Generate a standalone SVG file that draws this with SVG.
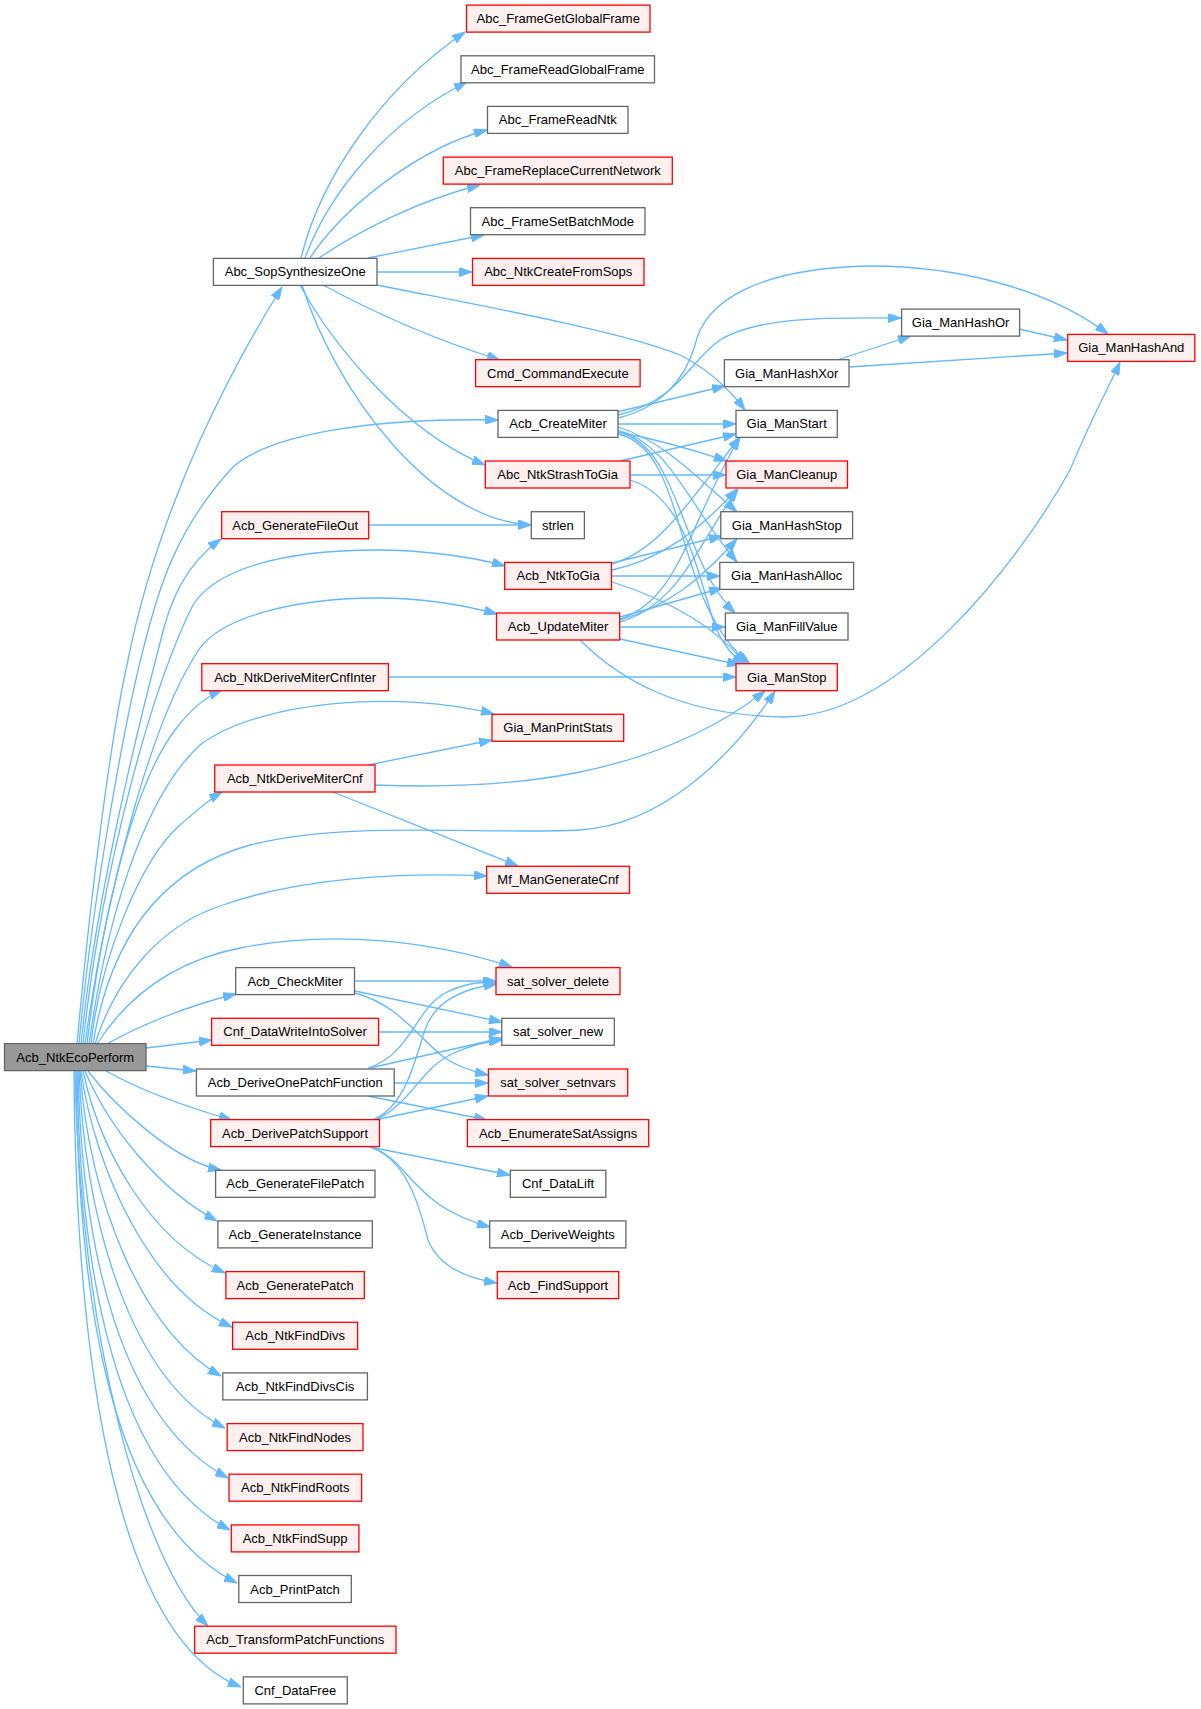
<svg xmlns="http://www.w3.org/2000/svg" width="1201" height="1709" viewBox="0 0 1201 1709">
<style>
.n rect{fill:#ffffff;stroke:#666666;stroke-width:1.3}
.r rect{fill:#fff0f0;stroke:#ff0000;stroke-width:1.3}
.root rect{fill:#999999;stroke:#666666;stroke-width:1.3}
text{font-family:'Liberation Sans',Arial,Helvetica,sans-serif;font-size:13px;fill:#000000;text-anchor:middle}
#edges path{fill:none;stroke:#63b8ff;stroke-width:1.3;marker-end:url(#ah)}
</style>
<defs>
<marker id="ah" markerUnits="userSpaceOnUse" viewBox="0 0 13 9" refX="13" refY="4.5" markerWidth="13" markerHeight="9" orient="auto">
<path d="M0,0 L13,4.5 L0,9 z" fill="#63b8ff" stroke="#63b8ff" stroke-width="1"/>
</marker>
</defs>
<rect width="1201" height="1709" fill="#ffffff"/>
<g id="edges">
<!-- root edges -->
<path d="M77,1044 C90,900 110,740 128,660 C140,600 160,530 200,440 C225,385 255,330 282,287"/>
<path d="M79,1044 C92,900 125,720 143,650 C158,590 175,530 233,467 C275,430 390,418 498,420"/>
<path d="M81,1044 C95,900 140,720 160,643 C170,600 185,565 221,539"/>
<path d="M83,1044 C100,880 150,690 193,605 C215,570 280,550 377,550 C420,550 470,556 505,566"/>
<path d="M85,1044 C105,900 150,720 200,648 C225,615 300,598 377,598 C420,598 460,604 497,614"/>
<path d="M87,1044 C100,930 130,790 175,730 C190,710 205,697 222,690"/>
<path d="M89,1044 C105,930 140,800 200,745 C260,700 400,690 494,714"/>
<path d="M91,1044 C100,960 140,860 180,825 C195,812 208,800 222,792"/>
<path d="M93,1044 C110,940 160,870 250,845 C350,820 480,835 580,830 C660,825 730,760 775,691"/>
<path d="M95,1044 C115,980 160,925 223,905 C300,878 400,872 487,876"/>
<path d="M97,1044 C125,1000 170,962 240,948 C330,930 430,940 512,967"/>
<path d="M107,1044 C140,1025 190,1005 236,994"/>
<path d="M146,1048 L212,1040"/>
<path d="M146,1066 L196,1071"/>
<path d="M106,1071 C140,1090 190,1108 232,1120"/>
<path d="M88,1071 C110,1100 170,1160 221,1170"/>
<path d="M85,1071 C110,1130 160,1190 217,1221"/>
<path d="M83,1071 C100,1150 150,1240 225,1273"/>
<path d="M81,1071 C95,1170 150,1290 232,1327"/>
<path d="M80,1071 C90,1200 140,1330 221,1376"/>
<path d="M79,1071 C85,1220 130,1380 225,1428"/>
<path d="M78,1071 C82,1250 120,1420 228,1478"/>
<path d="M77,1071 C80,1270 115,1470 230,1530"/>
<path d="M76,1071 C78,1300 110,1520 237,1583"/>
<path d="M75,1071 C80,1330 140,1560 208,1626"/>
<path d="M74,1071 C76,1380 120,1640 241,1687"/>
<!-- Abc_SopSynthesizeOne -->
<path d="M301,258 C320,180 380,90 465,32"/>
<path d="M305,258 C330,190 390,120 467,82"/>
<path d="M310,258 C345,205 420,148 487,130"/>
<path d="M319,258 C360,230 420,200 480,185"/>
<path d="M368,258 L484,235"/>
<path d="M377,272 L472,272"/>
<path d="M377,285 C450,300 620,330 680,355 C710,370 730,390 745,410"/>
<path d="M323,285 C360,305 420,335 500,360"/>
<path d="M300,285 C330,340 400,430 485,465"/>
<path d="M302,285 C335,390 430,520 531,525"/>
<!-- Acb_CreateMiter -->
<path d="M617,412 L725,386"/>
<path d="M618,415 C680,400 690,360 720,340 C760,315 840,318 901,318"/>
<path d="M618,418 C660,408 685,380 695,345 C705,300 760,268 870,266 C960,266 1050,290 1108,334"/>
<path d="M618,424 L736,424"/>
<path d="M618,432 C660,440 700,452 727,461"/>
<path d="M618,427 C660,440 690,470 737,512"/>
<path d="M618,430 C670,445 685,500 737,562"/>
<path d="M618,432 C680,445 680,560 735,613"/>
<path d="M618,434 C690,450 670,600 750,664"/>
<!-- Gia_ManHashXor / Or -->
<path d="M837,360 L911,336"/>
<path d="M849,367 L1067,353"/>
<path d="M1019,329 L1067,340"/>
<!-- Abc_NtkStrashToGia -->
<path d="M620,461 L736,434"/>
<path d="M630,475 L726,475"/>
<path d="M630,480 C680,495 695,560 710,610 C718,640 730,655 745,664"/>
<!-- Acb_GenerateFileOut -->
<path d="M369,525 L531,525"/>
<!-- Acb_NtkToGia -->
<path d="M612,564 C660,550 690,500 740,437"/>
<path d="M612,570 C660,560 700,530 737,489"/>
<path d="M612,563 L722,536"/>
<path d="M612,576 L720,576"/>
<path d="M612,582 C670,600 720,630 745,664"/>
<!-- Acb_UpdateMiter -->
<path d="M620,619 C680,600 690,520 740,437"/>
<path d="M620,622 C680,605 700,540 738,489"/>
<path d="M620,620 C670,605 700,580 737,539"/>
<path d="M620,617 L722,588"/>
<path d="M620,627 L725,627"/>
<path d="M620,639 L740,665"/>
<path d="M580,640 C620,680 680,715 783,717 C900,718 1020,560 1070,470 C1095,410 1110,385 1120,362"/>
<!-- Acb_NtkDeriveMiterCnfInter -->
<path d="M388,677 L736,677"/>
<!-- Acb_NtkDeriveMiterCnf -->
<path d="M368,765 L492,740"/>
<path d="M375,785 C500,790 650,780 765,691"/>
<path d="M333,792 L518,866"/>
<!-- Acb_CheckMiter -->
<path d="M355,981 L496,981"/>
<path d="M355,991 L502,1022"/>
<path d="M355,993 C400,1005 420,1040 445,1058 C460,1068 475,1072 488,1075"/>
<!-- Cnf_DataWriteIntoSolver -->
<path d="M379,1032 L502,1032"/>
<!-- Acb_DeriveOnePatchFunction -->
<path d="M368,1068 C410,1055 415,1010 445,993 C465,983 480,982 497,982"/>
<path d="M370,1068 L502,1038"/>
<path d="M394,1083 L488,1083"/>
<path d="M368,1096 L487,1120"/>
<!-- Acb_DerivePatchSupport -->
<path d="M372,1120 C405,1108 415,1060 425,1030 C435,1000 465,988 497,984"/>
<path d="M375,1120 C410,1105 420,1070 450,1055 C470,1045 485,1042 502,1040"/>
<path d="M375,1120 L488,1096"/>
<path d="M370,1147 L510,1175"/>
<path d="M372,1147 C400,1158 410,1185 440,1205 C458,1217 475,1223 490,1227"/>
<path d="M372,1148 C405,1160 418,1200 428,1240 C438,1265 465,1278 497,1283"/>
</g>
<g id="Acb_NtkEcoPerform" class="root"><rect x="4.5" y="1043.6" width="141.5" height="27"/><text x="75.25" y="1061.6">Acb_NtkEcoPerform</text></g>
<g id="Abc_SopSynthesizeOne" class="n"><rect x="213.4" y="258.4" width="163.6" height="27"/><text x="295.2" y="276.4">Abc_SopSynthesizeOne</text></g>
<g id="Acb_GenerateFileOut" class="r"><rect x="221.7" y="511.7" width="147" height="27"/><text x="295.2" y="529.7">Acb_GenerateFileOut</text></g>
<g id="Acb_NtkDeriveMiterCnfInter" class="r"><rect x="201.8" y="663.7" width="186.6" height="27"/><text x="295.1" y="681.7">Acb_NtkDeriveMiterCnfInter</text></g>
<g id="Acb_NtkDeriveMiterCnf" class="r"><rect x="214.7" y="765" width="160.3" height="27"/><text x="294.85" y="783">Acb_NtkDeriveMiterCnf</text></g>
<g id="Acb_CheckMiter" class="n"><rect x="235.7" y="967.6" width="118.8" height="27"/><text x="295.1" y="985.6">Acb_CheckMiter</text></g>
<g id="Cnf_DataWriteIntoSolver" class="r"><rect x="211.6" y="1018.3" width="167" height="27"/><text x="295.1" y="1036.3">Cnf_DataWriteIntoSolver</text></g>
<g id="Acb_DeriveOnePatchFunction" class="n"><rect x="196.4" y="1069" width="197.8" height="27"/><text x="295.3" y="1087">Acb_DeriveOnePatchFunction</text></g>
<g id="Acb_DerivePatchSupport" class="r"><rect x="210.7" y="1119.6" width="168.8" height="27"/><text x="295.1" y="1137.6">Acb_DerivePatchSupport</text></g>
<g id="Acb_GenerateFilePatch" class="n"><rect x="215.6" y="1170.3" width="159.4" height="27"/><text x="295.3" y="1188.3">Acb_GenerateFilePatch</text></g>
<g id="Acb_GenerateInstance" class="n"><rect x="217.9" y="1220.9" width="154.4" height="27"/><text x="295.1" y="1238.9">Acb_GenerateInstance</text></g>
<g id="Acb_GeneratePatch" class="r"><rect x="225.9" y="1271.6" width="138.4" height="27"/><text x="295.1" y="1289.6">Acb_GeneratePatch</text></g>
<g id="Acb_NtkFindDivs" class="r"><rect x="232.6" y="1322.3" width="125" height="27"/><text x="295.1" y="1340.3">Acb_NtkFindDivs</text></g>
<g id="Acb_NtkFindDivsCis" class="n"><rect x="222.8" y="1372.9" width="144.6" height="27"/><text x="295.1" y="1390.9">Acb_NtkFindDivsCis</text></g>
<g id="Acb_NtkFindNodes" class="r"><rect x="227.2" y="1423.6" width="135.8" height="27"/><text x="295.1" y="1441.6">Acb_NtkFindNodes</text></g>
<g id="Acb_NtkFindRoots" class="r"><rect x="229" y="1474.2" width="132.6" height="27"/><text x="295.3" y="1492.2">Acb_NtkFindRoots</text></g>
<g id="Acb_NtkFindSupp" class="r"><rect x="231.3" y="1524.9" width="127.6" height="27"/><text x="295.1" y="1542.9">Acb_NtkFindSupp</text></g>
<g id="Acb_PrintPatch" class="n"><rect x="238.8" y="1575.5" width="112.5" height="27"/><text x="295.05" y="1593.5">Acb_PrintPatch</text></g>
<g id="Acb_TransformPatchFunctions" class="r"><rect x="194.6" y="1626.2" width="201.4" height="27"/><text x="295.3" y="1644.2">Acb_TransformPatchFunctions</text></g>
<g id="Cnf_DataFree" class="n"><rect x="243.3" y="1676.9" width="104" height="27"/><text x="295.3" y="1694.9">Cnf_DataFree</text></g>
<g id="Abc_FrameGetGlobalFrame" class="r"><rect x="466.5" y="5.1" width="183.5" height="27"/><text x="558.25" y="23.1">Abc_FrameGetGlobalFrame</text></g>
<g id="Abc_FrameReadGlobalFrame" class="n"><rect x="461" y="55.8" width="193.5" height="27"/><text x="557.75" y="73.8">Abc_FrameReadGlobalFrame</text></g>
<g id="Abc_FrameReadNtk" class="n"><rect x="487.5" y="106.4" width="140.5" height="27"/><text x="557.75" y="124.4">Abc_FrameReadNtk</text></g>
<g id="Abc_FrameReplaceCurrentNetwork" class="r"><rect x="443.3" y="157.1" width="229" height="27"/><text x="557.8" y="175.1">Abc_FrameReplaceCurrentNetwork</text></g>
<g id="Abc_FrameSetBatchMode" class="n"><rect x="470.5" y="207.7" width="174.5" height="27"/><text x="557.75" y="225.7">Abc_FrameSetBatchMode</text></g>
<g id="Abc_NtkCreateFromSops" class="r"><rect x="472.5" y="258.4" width="171.5" height="27"/><text x="558.25" y="276.4">Abc_NtkCreateFromSops</text></g>
<g id="Cmd_CommandExecute" class="r"><rect x="475.6" y="359.7" width="164.5" height="27"/><text x="557.85" y="377.7">Cmd_CommandExecute</text></g>
<g id="Acb_CreateMiter" class="n"><rect x="498" y="410.4" width="120" height="27"/><text x="558" y="428.4">Acb_CreateMiter</text></g>
<g id="Abc_NtkStrashToGia" class="r"><rect x="485.3" y="461" width="144.7" height="27"/><text x="557.65" y="479">Abc_NtkStrashToGia</text></g>
<g id="strlen" class="n"><rect x="531.3" y="511.7" width="53.1" height="27"/><text x="557.85" y="529.7">strlen</text></g>
<g id="Acb_NtkToGia" class="r"><rect x="504.7" y="562.4" width="106.8" height="27"/><text x="558.1" y="580.4">Acb_NtkToGia</text></g>
<g id="Acb_UpdateMiter" class="r"><rect x="496.5" y="613" width="123.2" height="27"/><text x="558.1" y="631">Acb_UpdateMiter</text></g>
<g id="Gia_ManPrintStats" class="r"><rect x="492" y="714.3" width="131.7" height="27"/><text x="557.85" y="732.3">Gia_ManPrintStats</text></g>
<g id="Mf_ManGenerateCnf" class="r"><rect x="486.6" y="866.3" width="142.9" height="27"/><text x="558.05" y="884.3">Mf_ManGenerateCnf</text></g>
<g id="sat_solver_delete" class="r"><rect x="496" y="967.6" width="124" height="27"/><text x="558" y="985.6">sat_solver_delete</text></g>
<g id="sat_solver_new" class="n"><rect x="501.8" y="1018.3" width="112.5" height="27"/><text x="558.05" y="1036.3">sat_solver_new</text></g>
<g id="sat_solver_setnvars" class="r"><rect x="488.4" y="1069" width="139.3" height="27"/><text x="558.05" y="1087">sat_solver_setnvars</text></g>
<g id="Acb_EnumerateSatAssigns" class="r"><rect x="467.4" y="1119.6" width="181.3" height="27"/><text x="558.05" y="1137.6">Acb_EnumerateSatAssigns</text></g>
<g id="Cnf_DataLift" class="n"><rect x="510.3" y="1170.3" width="95.5" height="27"/><text x="558.05" y="1188.3">Cnf_DataLift</text></g>
<g id="Acb_DeriveWeights" class="n"><rect x="489.7" y="1220.9" width="136.2" height="27"/><text x="557.8" y="1238.9">Acb_DeriveWeights</text></g>
<g id="Acb_FindSupport" class="r"><rect x="497.3" y="1271.6" width="121.4" height="27"/><text x="558" y="1289.6">Acb_FindSupport</text></g>
<g id="Gia_ManHashXor" class="n"><rect x="724.4" y="359.7" width="124.6" height="27"/><text x="786.7" y="377.7">Gia_ManHashXor</text></g>
<g id="Gia_ManStart" class="n"><rect x="736" y="410.4" width="101.3" height="27"/><text x="786.65" y="428.4">Gia_ManStart</text></g>
<g id="Gia_ManCleanup" class="r"><rect x="726" y="461" width="121.5" height="27"/><text x="786.75" y="479">Gia_ManCleanup</text></g>
<g id="Gia_ManHashStop" class="n"><rect x="720.8" y="511.7" width="131.8" height="27"/><text x="786.7" y="529.7">Gia_ManHashStop</text></g>
<g id="Gia_ManHashAlloc" class="n"><rect x="719.8" y="562.4" width="133.8" height="27"/><text x="786.7" y="580.4">Gia_ManHashAlloc</text></g>
<g id="Gia_ManFillValue" class="n"><rect x="725.4" y="613" width="122.6" height="27"/><text x="786.7" y="631">Gia_ManFillValue</text></g>
<g id="Gia_ManStop" class="r"><rect x="736" y="663.7" width="101.3" height="27"/><text x="786.65" y="681.7">Gia_ManStop</text></g>
<g id="Gia_ManHashOr" class="n"><rect x="901.6" y="309.1" width="118" height="27"/><text x="960.6" y="327.1">Gia_ManHashOr</text></g>
<g id="Gia_ManHashAnd" class="r"><rect x="1067.7" y="334.4" width="127.1" height="27"/><text x="1131.25" y="352.4">Gia_ManHashAnd</text></g>
</svg>
